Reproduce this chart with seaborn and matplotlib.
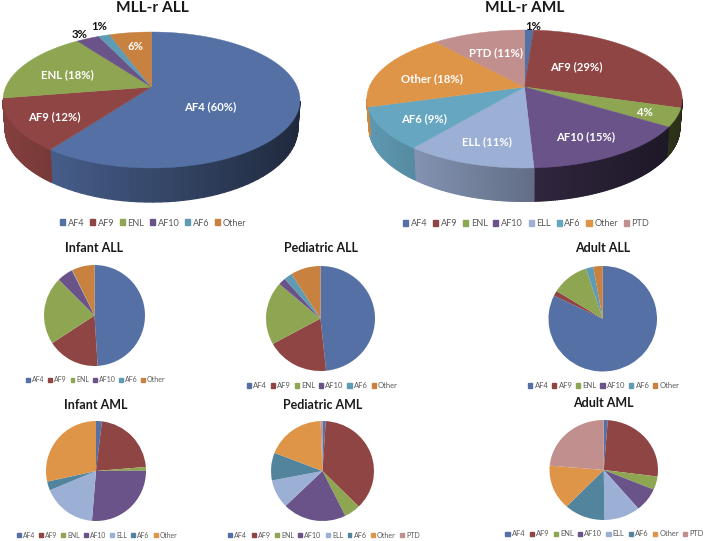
import numpy as np
import seaborn as sns
import matplotlib.pyplot as plt
from matplotlib.colors import to_rgb
from matplotlib.patches import Patch, Polygon

W, H = 708, 541

names_all = ['AF4', 'AF9', 'ENL', 'AF10', 'AF6', 'Other']
names_aml_7 = ['AF4', 'AF9', 'ENL', 'AF10', 'ELL', 'AF6', 'Other']
names_aml = ['AF4', 'AF9', 'ENL', 'AF10', 'ELL', 'AF6', 'Other', 'PTD']

# percentages
mll_all = [60, 12.4, 17.6, 3, 1.5, 5.5]
mll_aml = [1.1, 28.7, 4.3, 15.1, 11.4, 9.8, 18.4, 11.2]
infant_all = [49, 16.8, 21.7, 5.1, 0.2, 7.2]
pediatric_all = [48.3, 18.6, 19.4, 2.2, 2.5, 8.9]
adult_all = [82.2, 1.6, 11.1, 0.1, 2.2, 2.8]
infant_aml = [1.9, 21.8, 1.2, 26.4, 17.4, 2.9, 28.4]
pediatric_aml = [1, 36.4, 5.1, 19.9, 9.2, 8.9, 18.4, 0.6]
adult_aml = [1.2, 25.9, 4.3, 7.6, 10.8, 12.2, 14.4, 23.6]

colors_all = {'AF4': '#5470a5', 'AF9': '#8f4543', 'ENL': '#8ea552', 'AF10': '#6a5389',
              'AF6': '#5f9bb3', 'Other': '#c8813e'}
colors_aml = {'AF4': '#5470a5', 'AF9': '#8f4543', 'ENL': '#8ea552', 'AF10': '#6a5389',
              'ELL': '#9cafd4', 'AF6': '#66a6c1', 'Other': '#df9548', 'PTD': '#c18f8e'}
colors_small_aml = dict(colors_aml, AF6='#53849e')
wall_gain = {'AF10': 0.72, 'ENL': 0.8}

sns.set_theme(style='white')
plt.rcParams['font.family'] = ['Lato', 'DejaVu Sans']

fig = plt.figure(figsize=(W / 100, H / 100), dpi=100)


def px_axes(x0, y0, x1, y1):
    return fig.add_axes([x0 / W, 1 - y1 / H, (x1 - x0) / W, (y1 - y0) / H])


def px_text(x, y, s, **kw):
    fig.text(x / W, 1 - y / H, s, ha='center', va='center', **kw)


def add_legend(names, colors, x0, x1, y, size, spacing):
    handles = [Patch(color=colors[n], label=n) for n in names]
    fig.legend(handles=handles, loc='center', bbox_to_anchor=((x0 + x1) / 2 / W, 1 - y / H),
               ncol=len(names), frameon=False, fontsize=size, handlelength=0.55,
               handleheight=0.55, handletextpad=0.3, columnspacing=spacing,
               labelcolor='#595959', borderpad=0, borderaxespad=0)


def flat_pie(values, names, colors, box, title, title_xy, leg):
    ax = px_axes(*box)
    ax.pie(values, startangle=90, counterclock=False, normalize=True,
           colors=[colors[n] for n in names], radius=1, wedgeprops={'linewidth': 0})
    ax.set_aspect('auto')
    ax.set_xlim(-1, 1)
    ax.set_ylim(-1, 1)
    ax.axis('off')
    px_text(title_xy[0], title_xy[1], title, fontsize=9, fontweight='bold', color='#1a1a1a')
    add_legend(names, colors, *leg)


def tilted_pie(values, names, colors, cx, cy, up, down, rx, depth, title, title_x, leg, gains={}):
    # top disc is a projective view of the circle, so the apex sits above the ellipse centre
    c = (down - up) / (down + up)
    a = up * (1 + c)
    k = rx * np.sqrt(1 - c ** 2)

    def project(t):
        u, v = np.cos(t), np.sin(t)
        w = 1 + c * v
        return k * u / w, a * v / w, w

    ax = px_axes(0, 0, W, H)
    wedges, _ = ax.pie(values, startangle=90, counterclock=False, normalize=True,
                       colors=[colors[n] for n in names], center=(cx, cy), radius=1)
    ax.set_aspect('auto')
    ax.set_xlim(0, W)
    ax.set_ylim(H, 0)
    ax.axis('off')
    for wedge, n in zip(wedges, names):
        wedge.set_visible(False)
        base = np.array(to_rgb(colors[n]))
        t = np.radians(np.linspace(wedge.theta1, wedge.theta2, 90))
        x, y, w = project(t)
        ax.add_patch(Polygon(np.column_stack([np.r_[cx, cx + x], np.r_[cy, cy - y]]),
                             closed=True, fc=base, ec=base, lw=0.3, zorder=3))
        xb = x * 0.985
        yb = y - depth / w
        for i in range(len(t) - 1):
            # only the front of the rim is seen
            if x[i + 1] <= x[i]:
                continue
            shade = (0.92 - 0.55 * (x[i] + rx) / (2 * rx)) * gains.get(n, 1)
            quad = [(cx + x[i], cy - y[i]), (cx + x[i + 1], cy - y[i + 1]),
                    (cx + xb[i + 1], cy - yb[i + 1]), (cx + xb[i], cy - yb[i])]
            col = base * shade
            ax.add_patch(Polygon(quad, closed=True, fc=col, ec=col, lw=1.0, zorder=2))
    px_text(title_x, 8, title, fontsize=11.2, fontweight='bold', color='#1a1a1a')
    add_legend(names, colors, *leg)


tilted_pie(mll_all, names_all, colors_all, 151.5, 87, 55, 81, 148.5, 27.5,
           'MLL-r ALL', 152, (59, 247, 223, 6.6, 0.6))
tilted_pie(mll_aml, names_aml, colors_aml, 524.5, 87, 57, 81, 157.7, 27.5,
           'MLL-r AML', 525, (402, 650, 224, 6.6, 0.62), gains=wall_gain)

flat_pie(infant_all, names_all, colors_all, (44, 265, 145, 366), 'Infant ALL', (94, 248),
         (26, 166, 380, 5, 0.5))
flat_pie(pediatric_all, names_all, colors_all, (266, 266, 375, 371), 'Pediatric ALL', (320.5, 248),
         (246.5, 398, 386, 5.5, 0.48))
flat_pie(adult_all, names_all, colors_all, (548.5, 266, 657, 371.5), 'Adult ALL', (603, 248),
         (528, 679.5, 386, 5.5, 0.48))
flat_pie(infant_aml, names_aml_7, colors_small_aml, (46, 421, 146, 521), 'Infant AML', (96, 405),
         (17, 177, 535, 4.9, 0.63))
flat_pie(pediatric_aml, names_aml, colors_small_aml, (271, 421, 374, 521), 'Pediatric AML', (323, 405),
         (228, 420, 535, 5.1, 0.61))
flat_pie(adult_aml, names_aml, colors_small_aml, (549.5, 420, 658, 520), 'Adult AML', (603.5, 403),
         (504, 705, 534, 5.4, 0.55))

white = dict(color='white', fontsize=8.2, fontweight='bold', zorder=5)
black = dict(color='#111111', fontsize=8.2, fontweight='bold', zorder=5)
for x, y, s in [(210, 107, 'AF4 (60%)'), (54, 117, 'AF9 (12%)'), (67, 75, 'ENL (18%)'), (136, 47, '6%'),
                (576, 67, 'AF9 (29%)'), (645, 113, '4%'), (586, 137, 'AF10 (15%)'), (487, 142, 'ELL (11%)'),
                (424, 119, 'AF6 (9%)'), (432, 79, 'Other (18%)'), (496, 53, 'PTD (11%)')]:
    px_text(x, y, s, **white)
for x, y, s in [(80, 34, '3%'), (99, 26, '1%'), (533, 26, '1%')]:
    px_text(x, y, s, **black)

fig.savefig('out.png', dpi=100)
